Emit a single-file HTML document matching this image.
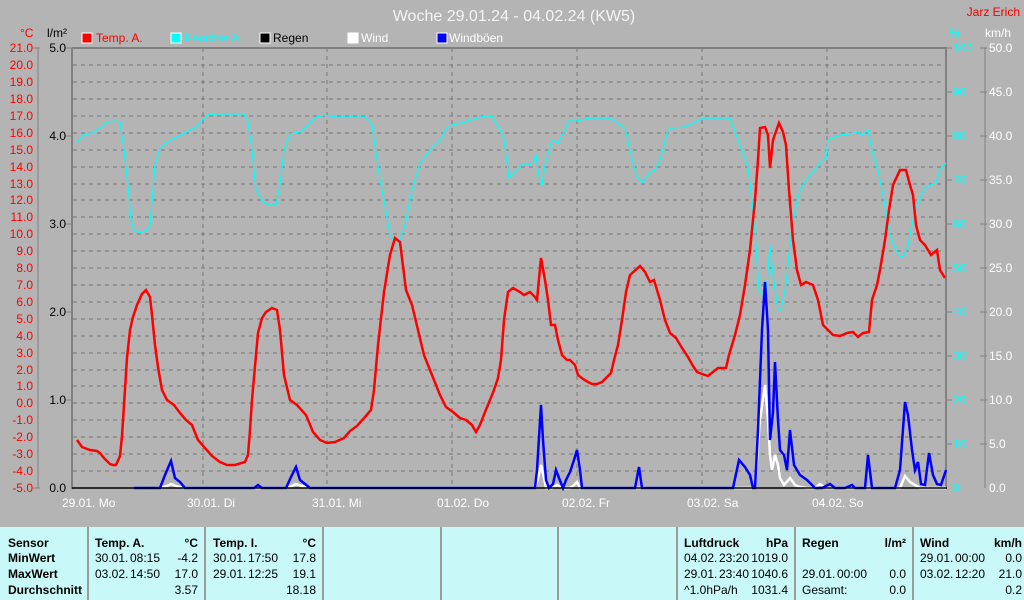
<!DOCTYPE html>
<html><head><meta charset="utf-8"><style>
html,body{margin:0;padding:0;background:#b4b4b4;}
svg{display:block;font-family:"Liberation Sans",sans-serif;}
</style></head><body>
<svg width="1024" height="600" xmlns="http://www.w3.org/2000/svg">
<rect width="1024" height="600" fill="#b4b4b4"/>
<text x="514" y="21" font-size="16" fill="#f4f4f4" text-anchor="middle">Woche 29.01.24 - 04.02.24 (KW5)</text>
<text x="1020" y="16" font-size="12" fill="#f00000" text-anchor="end">Jarz Erich</text>
<g font-size="12">
<rect x="82" y="33" width="10" height="10" fill="#f00" stroke="#fff"/><text x="96" y="42" fill="#f00">Temp. A.</text>
<rect x="171" y="33" width="10" height="10" fill="#0ff" stroke="#fff"/><text x="185" y="42" fill="#0ff">Feuchte A.</text>
<rect x="260" y="33" width="10" height="10" fill="#000" stroke="#fff"/><text x="273" y="42" fill="#000">Regen</text>
<rect x="348" y="33" width="10" height="10" fill="#fff" stroke="#fff"/><text x="361" y="42" fill="#fff">Wind</text>
<rect x="437" y="33" width="10" height="10" fill="#00f" stroke="#fff"/><text x="449" y="42" fill="#fff">Windböen</text>
<text x="20" y="37" fill="#f00">°C</text>
<text x="47" y="37" fill="#000">l/m²</text>
<text x="949" y="37" fill="#0ff">%</text>
<text x="985" y="37" fill="#fff">km/h</text>
</g>
<g stroke="#777" stroke-dasharray="4,4" stroke-width="1">
<line x1="73" x2="946" y1="65" y2="65"/><line x1="73" x2="946" y1="82" y2="82"/><line x1="73" x2="946" y1="99" y2="99"/><line x1="73" x2="946" y1="116" y2="116"/><line x1="73" x2="946" y1="133" y2="133"/><line x1="73" x2="946" y1="150" y2="150"/><line x1="73" x2="946" y1="167" y2="167"/><line x1="73" x2="946" y1="184" y2="184"/><line x1="73" x2="946" y1="200" y2="200"/><line x1="73" x2="946" y1="217" y2="217"/><line x1="73" x2="946" y1="234" y2="234"/><line x1="73" x2="946" y1="251" y2="251"/><line x1="73" x2="946" y1="268" y2="268"/><line x1="73" x2="946" y1="285" y2="285"/><line x1="73" x2="946" y1="302" y2="302"/><line x1="73" x2="946" y1="319" y2="319"/><line x1="73" x2="946" y1="336" y2="336"/><line x1="73" x2="946" y1="353" y2="353"/><line x1="73" x2="946" y1="370" y2="370"/><line x1="73" x2="946" y1="386" y2="386"/><line x1="73" x2="946" y1="403" y2="403"/><line x1="73" x2="946" y1="420" y2="420"/><line x1="73" x2="946" y1="437" y2="437"/><line x1="73" x2="946" y1="454" y2="454"/><line x1="73" x2="946" y1="471" y2="471"/>
<line x1="203" x2="203" y1="48" y2="488"/><line x1="327" x2="327" y1="48" y2="488"/><line x1="452" x2="452" y1="48" y2="488"/><line x1="577" x2="577" y1="48" y2="488"/><line x1="702" x2="702" y1="48" y2="488"/><line x1="827" x2="827" y1="48" y2="488"/>
</g>
<line x1="72" y1="48" x2="947" y2="48" stroke="#808080" stroke-width="2"/>
<line x1="72" y1="48" x2="72" y2="489" stroke="#808080" stroke-width="2"/>
<line x1="946" y1="48" x2="946" y2="489" stroke="#808080" stroke-width="2"/>
<line x1="38" y1="48" x2="38" y2="488" stroke="#808080"/>
<line x1="985" y1="48" x2="985" y2="488" stroke="#808080"/>
<g stroke="#808080">
<line x1="33" x2="40" y1="48" y2="48"/><line x1="33" x2="40" y1="488" y2="488"/>
<line x1="66" x2="72" y1="48" y2="48"/><line x1="66" x2="72" y1="136" y2="136"/><line x1="66" x2="72" y1="224" y2="224"/><line x1="66" x2="72" y1="312" y2="312"/><line x1="66" x2="72" y1="400" y2="400"/>
<line x1="946" x2="952" y1="48" y2="48"/><line x1="946" x2="952" y1="92" y2="92"/><line x1="946" x2="952" y1="136" y2="136"/><line x1="946" x2="952" y1="180" y2="180"/><line x1="946" x2="952" y1="224" y2="224"/><line x1="946" x2="952" y1="268" y2="268"/><line x1="946" x2="952" y1="312" y2="312"/><line x1="946" x2="952" y1="356" y2="356"/><line x1="946" x2="952" y1="400" y2="400"/><line x1="946" x2="952" y1="444" y2="444"/>
<line x1="980" x2="987" y1="48" y2="48"/><line x1="980" x2="987" y1="92" y2="92"/><line x1="980" x2="987" y1="136" y2="136"/><line x1="980" x2="987" y1="180" y2="180"/><line x1="980" x2="987" y1="224" y2="224"/><line x1="980" x2="987" y1="268" y2="268"/><line x1="980" x2="987" y1="312" y2="312"/><line x1="980" x2="987" y1="356" y2="356"/><line x1="980" x2="987" y1="400" y2="400"/><line x1="980" x2="987" y1="444" y2="444"/>
</g>
<g font-size="12" fill="#f00" text-anchor="end">
<text x="33" y="52">21.0</text><text x="33" y="69">20.0</text><text x="33" y="86">19.0</text><text x="33" y="103">18.0</text><text x="33" y="120">17.0</text><text x="33" y="137">16.0</text><text x="33" y="154">15.0</text><text x="33" y="171">14.0</text><text x="33" y="188">13.0</text><text x="33" y="204">12.0</text><text x="33" y="221">11.0</text><text x="33" y="238">10.0</text><text x="33" y="255">9.0</text><text x="33" y="272">8.0</text><text x="33" y="289">7.0</text><text x="33" y="306">6.0</text><text x="33" y="323">5.0</text><text x="33" y="340">4.0</text><text x="33" y="357">3.0</text><text x="33" y="374">2.0</text><text x="33" y="390">1.0</text><text x="33" y="407">0.0</text><text x="33" y="424">-1.0</text><text x="33" y="441">-2.0</text><text x="33" y="458">-3.0</text><text x="33" y="475">-4.0</text><text x="33" y="492">-5.0</text>
</g>
<g font-size="12" fill="#000" text-anchor="end">
<text x="66" y="52">5.0</text><text x="66" y="140">4.0</text><text x="66" y="228">3.0</text><text x="66" y="316">2.0</text><text x="66" y="404">1.0</text><text x="66" y="492">0.0</text>
</g>
<g font-size="12" fill="#0ff">
<text x="953" y="52">100</text><text x="953" y="96">90</text><text x="953" y="140">80</text><text x="953" y="184">70</text><text x="953" y="228">60</text><text x="953" y="272">50</text><text x="953" y="316">40</text><text x="953" y="360">30</text><text x="953" y="404">20</text><text x="953" y="448">10</text><text x="953" y="492">0</text>
</g>
<g font-size="12" fill="#fff">
<text x="989" y="52">50.0</text><text x="989" y="96">45.0</text><text x="989" y="140">40.0</text><text x="989" y="184">35.0</text><text x="989" y="228">30.0</text><text x="989" y="272">25.0</text><text x="989" y="316">20.0</text><text x="989" y="360">15.0</text><text x="989" y="404">10.0</text><text x="989" y="448">5.0</text><text x="989" y="492">0.0</text>
</g>
<g font-size="12" fill="#fff">
<text x="62" y="507">29.01.  Mo</text><text x="187" y="507">30.01.  Di</text><text x="312" y="507">31.01.  Mi</text><text x="437" y="507">01.02.  Do</text><text x="562" y="507">02.02.  Fr</text><text x="687" y="507">03.02.  Sa</text><text x="812" y="507">04.02.  So</text>
</g>
<polyline fill="none" stroke="#0ff" stroke-width="1.3" points="77,143 83,135 92,133 100,128 107,122 114,121 120,122 124,150 128,185 131,220 134,230 140,233 147,230 150,225 153,190 155,165 160,148 167,142 175,138 185,133 197,127 200,122 208,115 216,114 228,114 244,114 248,122 252,150 256,190 262,200 268,205 276,205 280,185 284,150 290,134 300,132 308,125 316,117 325,115 337,117 350,117 365,117 372,125 380,180 385,205 390,235 395,242 400,240 405,225 412,190 420,163 430,150 440,140 448,126 457,124 465,122 477,118 485,116 492,116 500,130 504,140 509,178 515,172 521,165 530,165 534,160 536,155 540,183 542,185 545,165 552,140 558,143 565,130 568,121 577,121 590,118 600,118 610,118 625,128 630,150 636,175 642,183 650,172 655,170 660,160 668,130 672,128 685,127 703,118 720,118 730,118 740,145 748,167 752,200 756,245 759,290 762,295 766,298 770,245 773,275 778,310 781,310 786,285 790,245 795,210 800,190 806,180 815,170 822,160 826,158 828,140 840,135 855,133 858,132 862,135 868,130 873,155 878,170 884,200 890,235 898,255 903,257 908,245 915,210 920,198 925,188 930,185 936,183 940,170 946,163"/>
<polyline fill="none" stroke="#fff" stroke-width="2.5" points="160,488 167,486 171,484 176,486 185,488 286,488 292,486 296,484 302,486 310,488 535,488 538,478 541,465 544,478 546,488 552,488 557,485 562,488 570,488 574,485 577,482 580,488 755,488 757,460 760,420 765,385 768,420 770,455 772,470 775,455 778,465 780,478 784,485 790,478 795,485 800,487 807,488 815,488 820,484 826,488 900,488 905,476 910,482 915,485 920,488 946,488"/>
<polyline fill="none" stroke="#00f" stroke-width="2.5" points="134,488 146,488 160,488 165,475 171,461 175,478 180,482 185,488 254,488 258,485 262,488 286,488 291,477 296,467 300,480 305,484 310,488 535,488 537,470 541,405 543,440 546,480 549,488 553,484 556,470 559,478 563,488 566,480 570,472 574,460 577,450 580,470 582,488 635,488 639,467 642,488 733,488 739,460 745,467 750,475 753,488 755,488 758,430 762,330 765,282 768,330 770,440 773,412 775,362 778,420 780,450 784,455 787,470 790,430 794,465 800,475 807,480 815,488 822,488 830,484 835,488 845,488 852,485 855,488 865,488 868,455 872,488 895,488 900,470 905,402 908,415 912,450 915,470 918,462 921,484 925,485 929,453 933,475 937,484 941,485 946,470"/>
<polyline fill="none" stroke="#f00" stroke-width="2.5" points="77,440 82,447 90,450 97,451 100,453 104,458 110,464 113,465 116,465 120,456 122,436 124,405 127,358 130,330 133,317 137,305 142,294 146,290 150,297 152,315 155,345 158,367 162,390 167,400 174,405 180,413 186,420 192,425 198,440 205,448 212,456 220,462 227,465 235,465 245,462 248,455 250,430 252,400 256,355 258,333 262,318 266,312 272,308 277,310 280,330 284,375 290,400 297,405 306,415 313,432 320,440 327,443 335,442 344,438 350,431 357,426 365,417 371,410 374,390 378,345 384,292 390,255 395,238 400,242 406,290 412,305 418,330 424,355 432,375 440,395 446,407 453,412 460,418 466,420 472,425 476,432 480,425 485,412 490,400 494,390 498,378 501,360 504,320 508,292 513,288 520,292 524,295 530,292 535,297 537,300 541,258 545,280 548,300 551,325 555,325 558,340 562,355 567,360 570,360 575,365 578,375 583,379 588,382 592,384 597,384 602,382 606,378 611,373 614,360 618,345 622,320 626,292 630,275 640,266 645,272 650,282 654,280 660,300 665,320 670,333 676,338 682,348 688,357 693,366 697,372 702,374 708,376 713,372 718,368 726,368 729,355 735,335 740,315 745,285 750,250 755,200 758,160 760,128 765,127 768,135 770,168 773,140 779,123 783,132 786,145 789,190 793,240 797,270 801,285 806,282 813,285 818,300 823,325 828,330 833,335 840,336 847,333 853,332 858,337 863,333 869,332 872,300 877,285 880,270 885,240 889,210 893,185 900,170 906,170 910,185 913,195 916,225 920,240 925,245 931,255 937,250 940,270 945,278"/>
<line x1="72" y1="488" x2="947" y2="488" stroke="#000" stroke-width="1.5"/>
<rect x="0" y="527" width="1024" height="73" fill="#c8f8f8"/>
<g stroke="#9a9a9a" stroke-width="2">
<line x1="88" x2="88" y1="527" y2="600"/><line x1="205" x2="205" y1="527" y2="600"/><line x1="323" x2="323" y1="527" y2="600"/><line x1="441" x2="441" y1="527" y2="600"/><line x1="558" x2="558" y1="527" y2="600"/><line x1="677" x2="677" y1="527" y2="600"/><line x1="795" x2="795" y1="527" y2="600"/><line x1="913" x2="913" y1="527" y2="600"/>
</g>
<g fill="#000" font-size="12">
<g font-weight="bold"><text x="8" y="547">Sensor</text><text x="8" y="562">MinWert</text><text x="8" y="578">MaxWert</text><text x="8" y="594">Durchschnitt</text>
<text x="95" y="547">Temp. A.</text><text x="198" y="547" text-anchor="end">°C</text>
<text x="213" y="547">Temp. I.</text><text x="316" y="547" text-anchor="end">°C</text>
<text x="684" y="547">Luftdruck</text><text x="788" y="547" text-anchor="end">hPa</text>
<text x="802" y="547">Regen</text><text x="906" y="547" text-anchor="end">l/m²</text>
<text x="920" y="547">Wind</text><text x="1022" y="547" text-anchor="end">km/h</text></g>
<text x="95" y="562">30.01.</text><text x="130" y="562">08:15</text><text x="198" y="562" text-anchor="end">-4.2</text>
<text x="95" y="578">03.02.</text><text x="130" y="578">14:50</text><text x="198" y="578" text-anchor="end">17.0</text>
<text x="198" y="594" text-anchor="end">3.57</text>
<text x="213" y="562">30.01.</text><text x="248" y="562">17:50</text><text x="316" y="562" text-anchor="end">17.8</text>
<text x="213" y="578">29.01.</text><text x="248" y="578">12:25</text><text x="316" y="578" text-anchor="end">19.1</text>
<text x="316" y="594" text-anchor="end">18.18</text>
<text x="684" y="562">04.02.</text><text x="719" y="562">23:20</text><text x="788" y="562" text-anchor="end">1019.0</text>
<text x="684" y="578">29.01.</text><text x="719" y="578">23:40</text><text x="788" y="578" text-anchor="end">1040.6</text>
<text x="684" y="594">^1.0hPa/h</text><text x="788" y="594" text-anchor="end">1031.4</text>
<text x="802" y="578">29.01.</text><text x="837" y="578">00:00</text><text x="906" y="578" text-anchor="end">0.0</text>
<text x="802" y="594">Gesamt:</text><text x="906" y="594" text-anchor="end">0.0</text>
<text x="920" y="562">29.01.</text><text x="955" y="562">00:00</text><text x="1022" y="562" text-anchor="end">0.0</text>
<text x="920" y="578">03.02.</text><text x="955" y="578">12:20</text><text x="1022" y="578" text-anchor="end">21.0</text>
<text x="1022" y="594" text-anchor="end">0.2</text>
</g>
</svg>
</body></html>
